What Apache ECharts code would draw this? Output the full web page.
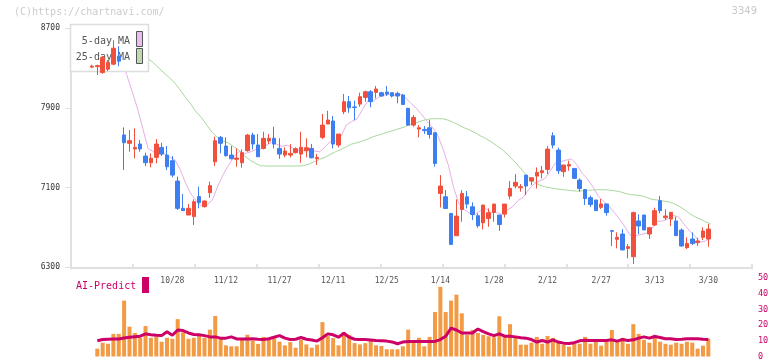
<!DOCTYPE html>
<html><head><meta charset="utf-8">
<script src="https://cdn.jsdelivr.net/npm/echarts@6/dist/echarts.min.js"></script>
<style>html,body{margin:0;padding:0;background:#fff}#c{width:772px;height:361px}</style>
</head><body><div id="c"></div>
<script>
// ---- data ----
const tickLabels = ['10/28','11/12','11/27','12/11','12/25','1/14','1/28','2/12','2/27','3/13','3/30'];
const tickIndex  = [15,25,35,45,55,65,75,85,95,105,115];
const priceTicks = [6300,7100,7900,8700];

const opens = [
8310,8315,8255,8290,8340,8420,7629,7545,7488,7538,
7417,7350,7404,7504,7427,7370,7166,6892,6825,6809,
7010,6909,7049,7360,7605,7518,7427,7384,7350,7471,
7628,7528,7494,7568,7595,7494,7427,7427,7451,7437,
7471,7494,7390,7605,7739,7769,7528,7862,7963,7910,
7939,8006,8063,8056,8053,8060,8053,8046,8030,7896,
7728,7688,7685,7701,7651,7042,7008,6841,6617,6881,
7008,6908,6818,6747,6791,6851,6824,6834,7015,7116,
7099,7226,7166,7216,7250,7283,7621,7477,7260,7317,
7293,7176,7080,6999,6976,6902,6936,6668,6581,6634,
6490,6407,6765,6825,6634,6725,6969,6798,6785,6765,
6674,6497,6584,6547,6601,6584];
const closes = [
8320,8325,8405,8360,8500,8370,7551,7572,7504,7488,
7350,7394,7538,7437,7310,7226,6892,6869,6892,6959,
6949,6966,7120,7571,7545,7421,7390,7397,7451,7628,
7538,7410,7595,7595,7538,7437,7467,7444,7491,7504,
7501,7400,7404,7728,7779,7538,7638,7963,7902,7905,
8013,8063,7963,8090,8020,8040,8020,8020,7936,7728,
7805,7701,7672,7634,7343,7116,6891,6530,6814,7042,
6935,6831,6717,6925,6848,6935,6730,6935,7092,7153,
7109,7116,7199,7253,7270,7487,7527,7270,7327,7333,
7193,7092,6990,6930,6869,6936,6849,6662,6601,6474,
6507,6849,6715,6675,6698,6869,6869,6815,6852,6618,
6514,6540,6540,6564,6664,6684];
const lows = [
8300,8231,8245,8270,8330,8320,7277,7461,7394,7461,
7317,7303,7344,7417,7277,7203,6876,6869,6825,6725,
6892,6900,6999,7317,7444,7411,7384,7310,7300,7461,
7484,7410,7484,7538,7494,7390,7404,7404,7444,7350,
7404,7394,7327,7588,7739,7494,7504,7839,7852,7778,
7912,7963,7906,7996,8013,8020,8006,7946,7929,7722,
7712,7605,7638,7594,7310,6901,6891,6530,6617,6757,
6891,6774,6697,6680,6707,6757,6667,6801,6982,7092,
7059,7025,7126,7092,7193,7236,7494,7236,7209,7270,
7186,7059,6926,6905,6869,6885,6818,6514,6490,6474,
6390,6333,6634,6675,6584,6715,6842,6775,6715,6618,
6507,6484,6524,6514,6574,6507];
const highs = [
8335,8335,8420,8380,8580,8520,7705,7679,7695,7578,
7451,7444,7588,7551,7518,7417,7210,7036,6936,6983,
7110,6970,7160,7612,7618,7605,7518,7494,7484,7638,
7651,7638,7661,7638,7712,7595,7504,7538,7504,7661,
7595,7538,7437,7839,7872,7819,7638,8040,8020,7973,
8053,8073,8080,8120,8063,8120,8053,8063,8040,7902,
7829,7728,7718,7778,7651,7226,7075,6841,6982,7075,
7065,6952,6841,6925,6891,6935,6824,6935,7166,7236,
7136,7226,7199,7303,7317,7517,7655,7501,7327,7370,
7293,7193,7086,7020,6976,6986,6936,6675,6651,6684,
6534,6859,6832,6825,6698,6899,7016,6882,6852,6808,
6691,6601,6651,6598,6701,6735];
const ma5 = [
null,null,null,null,8382,8392,8237,8071,7899,7697,
7493,7462,7455,7441,7406,7381,7281,7147,7038,6968,
6912,6927,6977,7113,7230,7325,7409,7465,7441,7457,
7481,7485,7524,7553,7535,7515,7526,7496,7475,7469,
7481,7468,7460,7507,7562,7570,7617,7729,7764,7789,
7884,7969,7969,8007,8030,8035,8027,8038,8007,7949,
7902,7838,7768,7708,7631,7493,7331,7103,6939,6879,
6842,6830,6868,6890,6851,6851,6831,6875,6908,6969,
7004,7081,7134,7166,7189,7265,7347,7361,7376,7389,
7330,7243,7187,7108,7015,6963,6915,6849,6783,6704,
6619,6619,6629,6644,6689,6761,6765,6785,6821,6805,
6734,6668,6613,6555,6564,6598];
const ma25 = [
null,null,null,null,null,null,null,null,8450,8425,
8395,8354,8301,8251,8204,8150,8080,8006,7936,7859,
7802,7725,7652,7601,7568,7548,7510,7475,7420,7378,
7345,7320,7317,7317,7317,7317,7317,7317,7317,7320,
7337,7360,7384,7404,7434,7461,7484,7511,7538,7551,
7568,7588,7611,7628,7645,7661,7678,7695,7712,7735,
7752,7770,7785,7792,7792,7792,7778,7755,7728,7701,
7678,7651,7621,7594,7561,7524,7487,7437,7383,7327,
7260,7203,7159,7126,7109,7099,7089,7082,7076,7069,
7066,7068,7073,7076,7079,7079,7076,7069,7059,7043,
7029,7026,7019,7002,6982,6976,6966,6959,6942,6915,
6882,6842,6808,6785,6758,6735];
const aiBars = [
null,5.0,8.8,8.1,14.4,14.4,35.6,19.0,15.0,11.9,
19.4,11.9,12.7,9.4,11.9,11.3,23.8,15.4,11.3,11.9,
13.8,11.9,17.1,25.8,11.3,7.1,6.5,6.5,11.3,13.9,
10.0,8.0,12.5,10.6,11.3,9.4,7.1,9.2,5.6,10.6,
7.7,5.6,7.5,21.9,13.0,11.7,7.1,15.6,13.8,8.5,
7.7,8.5,10.2,7.1,6.7,4.6,4.6,4.6,6.5,17.1,
8.8,11.9,6.5,12.5,28.3,44.4,28.3,35.6,39.4,27.5,
13.8,16.9,15.0,13.8,12.9,12.3,25.6,12.4,20.6,11.9,
7.5,7.5,8.8,12.5,8.1,13.1,11.9,8.8,7.5,6.3,
8.1,8.1,12.5,8.1,9.4,6.9,9.4,16.9,10.6,11.9,
8.1,20.6,14.4,10.6,8.8,13.8,9.4,8.1,7.5,8.8,
8.1,9.4,8.8,5.0,6.9,11.3];
const aiLine = [
null,10.0,10.8,11.0,11.2,11.2,11.8,12.3,12.6,12.9,
14.4,13.8,13.5,13.3,15.8,13.5,16.9,16.5,15.0,14.0,
13.8,13.3,12.5,12.5,11.7,11.7,12.5,11.2,11.2,11.2,
11.3,11.0,10.8,11.3,12.3,13.3,11.7,10.8,11.0,12.1,
11.0,10.5,9.8,12.0,14.4,13.8,12.3,14.8,12.3,11.0,
10.8,10.8,10.5,10.2,10.0,9.8,9.3,8.1,9.2,9.6,
9.6,9.6,9.6,9.6,9.6,10.8,12.9,18.1,16.9,15.0,
15.0,15.0,17.5,15.8,14.4,13.3,14.4,12.9,12.9,12.5,
11.9,11.7,10.8,9.2,10.2,9.2,10.6,9.2,8.5,8.3,
8.8,10.0,10.4,10.2,10.2,10.2,10.2,10.6,9.8,10.8,
10.2,10.6,11.7,12.5,11.7,12.7,12.1,11.3,11.3,10.8,
11.0,11.3,11.3,11.3,11.0,10.8];

// ---- build ----
const padL = 3, padR = 8;
const n = opens.length;
const cats = [];
for (let i = 0; i < padL; i++) cats.push('L' + i);
for (let j = 0; j < n; j++) {
  const k = tickIndex.indexOf(j);
  cats.push(k >= 0 ? tickLabels[k] : 'd' + j);
}
for (let i = 0; i < padR; i++) cats.push('R' + i);
const pad = a => [...Array(padL).fill('-'), ...a.map(v => v == null ? '-' : v), ...Array(padR).fill('-')];
const candleData = pad(opens.map((o, i) => [o, closes[i], lows[i], highs[i]]));

const MONO = 'DejaVu Sans Mono';
const TOP = 28.3, H = 239;
const frameGrid = {left: 71, right: 20, top: TOP, height: H};
const candleGrid = {left: 73.2, right: 18.1, top: TOP, height: H};
const maGrid = {left: 75.7, right: 15.6, top: TOP, height: H};
const lowGrid = {left: 73.2, right: 18.1, top: 278, height: 80};

const chart = echarts.init(document.getElementById('c'), null, {renderer: 'canvas'});
chart.setOption({
  animation: false,
  backgroundColor: '#fff',
  grid: [frameGrid, candleGrid, maGrid, lowGrid, frameGrid],
  xAxis: [
    {gridIndex: 0, type: 'value', min: 0, max: 11, interval: 1,
     axisLine: {show: true, lineStyle: {color: '#e0e0e0', width: 2}},
     axisTick: {show: true, length: 2, lineStyle: {color: '#e0e0e0', width: 2}},
     axisLabel: {show: false}, splitLine: {show: false}},
    {gridIndex: 1, type: 'category', data: cats, boundaryGap: true,
     axisLine: {show: false}, axisTick: {show: false}, splitLine: {show: false},
     axisLabel: {show: true, interval: (idx, val) => tickLabels.includes(val),
       color: '#555', fontSize: 8, fontFamily: MONO, margin: 10}},
    {gridIndex: 2, type: 'category', data: cats, show: false},
    {gridIndex: 3, type: 'category', data: cats, show: false},
    {gridIndex: 4, type: 'value', min: 0, max: 11, interval: 1,
     axisLine: {show: false},
     axisTick: {show: true, inside: true, length: 3, lineStyle: {color: '#e0e0e0', width: 2}},
     axisLabel: {show: false}, splitLine: {show: false}}
  ],
  yAxis: [
    {gridIndex: 0, type: 'value', min: 6300, max: 8700,
     axisLine: {show: true, lineStyle: {color: '#e0e0e0', width: 2}},
     axisTick: {show: true, length: 6, customValues: priceTicks, lineStyle: {color: '#e0e0e0', width: 1}},
     axisLabel: {show: true, customValues: priceTicks, formatter: v => String(v),
       color: '#333', fontSize: 8, fontFamily: MONO, margin: 11},
     splitLine: {show: false}},
    {gridIndex: 1, type: 'value', min: 6300, max: 8700, show: false},
    {gridIndex: 2, type: 'value', min: 6300, max: 8700, show: false},
    {gridIndex: 3, type: 'value', min: 0, max: 50, interval: 10, position: 'right',
     axisLine: {show: false}, axisTick: {show: false}, splitLine: {show: false},
     axisLabel: {color: '#cc0066', fontSize: 8.5, fontFamily: MONO, margin: 4}},
    {gridIndex: 4, type: 'value', min: 6300, max: 8700, show: false}
  ],
  series: [
    {type: 'line', name: '25-day MA', xAxisIndex: 2, yAxisIndex: 2, data: pad(ma25),
     symbol: 'none', z: 1, lineStyle: {color: '#a9d89c', width: 1}},
    {type: 'line', name: '5-day MA', xAxisIndex: 2, yAxisIndex: 2, data: pad(ma5),
     symbol: 'none', z: 1, lineStyle: {color: '#e8aee8', width: 1}},
    {type: 'candlestick', xAxisIndex: 1, yAxisIndex: 1, data: candleData, barWidth: 4, z: 5,
     itemStyle: {color: '#f0503c', color0: '#3d7ef0', borderColor: '#f0503c', borderColor0: '#3d7ef0', borderWidth: 1}},
    {type: 'bar', xAxisIndex: 3, yAxisIndex: 3, data: pad(aiBars), barWidth: 4,
     itemStyle: {color: '#f29a44'}},
    {type: 'line', xAxisIndex: 3, yAxisIndex: 3, data: pad(aiLine), symbol: 'none',
     lineStyle: {color: '#cc0066', width: 3}, z: 4}
  ],
  graphic: [
    {type: 'text', left: 14, top: 7, z: 1, style: {text: '(C)https://chartnavi.com/', fill: '#cccccc', font: '10px ' + MONO}},
    {type: 'text', right: 15, top: 6, z: 1, style: {text: '3349', fill: '#c8c8c8', font: '10px DejaVu Sans'}},
    {type: 'rect', z: 2, shape: {x: 70.5, y: 24.5, width: 78, height: 47},
     style: {fill: '#ffffff', stroke: '#dddddd', lineWidth: 1.5}},
    {type: 'text', z: 3, style: {text: '5-day MA', x: 130, y: 41, align: 'right', verticalAlign: 'middle', fill: '#555', font: '10px ' + MONO}},
    {type: 'text', z: 3, style: {text: '25-day MA', x: 130, y: 57, align: 'right', verticalAlign: 'middle', fill: '#555', font: '10px ' + MONO}},
    {type: 'rect', z: 3, shape: {x: 136.5, y: 31.5, width: 6, height: 15},
     style: {fill: '#ecbcec', stroke: '#555', lineWidth: 1}},
    {type: 'rect', z: 3, shape: {x: 136.5, y: 48.5, width: 6, height: 15},
     style: {fill: '#bcdcb0', stroke: '#555', lineWidth: 1}},
    {type: 'text', z: 3, style: {text: 'AI-Predict', x: 76, y: 286, verticalAlign: 'middle', fill: '#cc0066', font: '10px ' + MONO}},
    {type: 'rect', z: 3, shape: {x: 142, y: 277, width: 7, height: 16}, style: {fill: '#cc0066'}}
  ]
});
</script>
</body></html>
